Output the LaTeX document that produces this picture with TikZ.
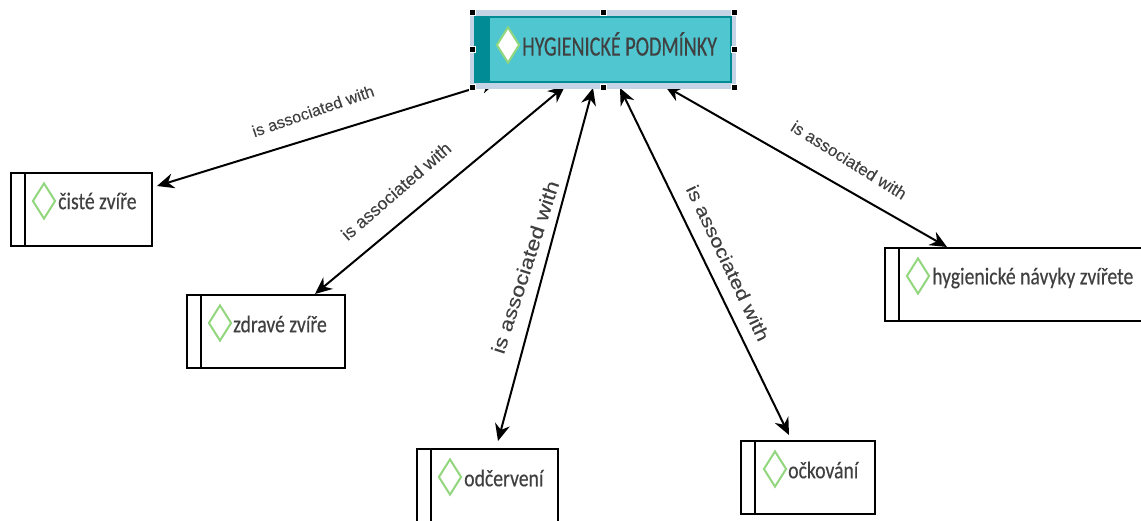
\documentclass[tikz,border=0pt]{standalone}
\usepackage{fontspec}
\usepackage{tikz}
\usetikzlibrary{arrows.meta}
\usetikzlibrary{shapes.geometric}
\usetikzlibrary{backgrounds}
\setmainfont{Carlito}[FakeStretch=0.82, FakeBold=0.3]
\newfontfamily\mainfont{Carlito}[FakeStretch=0.72, FakeBold=0.3]
\newfontfamily\linkfont{Liberation Sans}[FakeBold=0.1]
\newfontfamily\linkwidefont{Liberation Sans}[FakeStretch=1.18, FakeBold=0.1]
\definecolor{tealdark}{HTML}{008B95}
\definecolor{teallight}{HTML}{4FC6D0}
\definecolor{selblue}{HTML}{C5D3E6}
\definecolor{leafgreen}{HTML}{92D67E}
\definecolor{textgray}{HTML}{404040}
\tikzset{
  topicbox/.style = {draw=black, line width=2pt, fill=white, rectangle, anchor=north west, inner sep=0pt, outer sep=0pt, minimum height=73pt},
  leaf/.style = {diamond, draw=leafgreen, fill=white, line width=2pt, inner sep=0pt, minimum width=23pt, minimum height=36pt, aspect=0.6},
  topictext/.style = {anchor=west, inner sep=0pt, text=textgray, font=\fontsize{24}{26}\selectfont},
  linktext/.style = {inner sep=0pt, text=textgray, font=\linkfont\fontsize{16.3}{18}\selectfont},
  link/.style = {{Stealth[length=17pt,width=15pt]}-{Stealth[length=17pt,width=15pt]}, line width=2pt, black},
  handle/.style = {rectangle, draw=white, fill=black, line width=0.7pt, inner sep=0pt, minimum size=6pt}
}
\begin{document}
\begin{tikzpicture}[x=1pt, y=-1pt]
\useasboundingbox (0, 0) rectangle (1141, 521);

%draw main topic
\node[rectangle, draw=selblue, fill=selblue, line width=4pt, inner sep=0pt, outer sep=0pt, minimum width=262pt, minimum height=75pt] (frame) at (603, 49.5) {};
\node[rectangle, draw=tealdark, fill=teallight, line width=2pt, inner sep=0pt, outer sep=0pt, minimum width=256pt, minimum height=65pt] (main) at (603, 49.5) {};
\node[rectangle, fill=tealdark, inner sep=0pt, minimum width=16pt, minimum height=65pt] (mainstrip) at (482, 49.5) {};
\node[leaf] (mainleaf) at (508, 45) {};
\node[topictext, font=\mainfont\fontsize{28}{30}\selectfont] (maintext) at (522, 44) {HYGIENICKÉ PODMÍNKY};
\foreach \anc in {north west, north, north east, west, east, south west, south, south east}
  \node[handle] at (frame.\anc) {};

%draw topics
\node[topicbox, minimum width=141pt] (ciste) at (11, 173) {};
\node[leaf] (cisteleaf) at (44, 201) {};
\node[topictext] (cistetext) at (58, 201) {čisté zvíře};
\draw[line width=2pt] ([xshift=14pt]ciste.north west) to ([xshift=14pt]ciste.south west);

\node[topicbox, minimum width=158pt] (zdrave) at (187, 295) {};
\node[leaf] (zdraveleaf) at (220, 323) {};
\node[topictext] (zdravetext) at (233, 324) {zdravé zvíře};
\draw[line width=2pt] ([xshift=14pt]zdrave.north west) to ([xshift=14pt]zdrave.south west);

\node[topicbox, minimum width=141pt, minimum height=90pt] (odcerveni) at (417, 449) {};
\node[leaf] (odcerveniLeaf) at (450, 477) {};
\node[topictext] (odcervenitext) at (464, 478) {odčervení};
\draw[line width=2pt] ([xshift=14pt]odcerveni.north west) to ([xshift=14pt]odcerveni.south west);

\node[topicbox, minimum width=134pt] (ockovani) at (741, 441) {};
\node[leaf] (ockovaniLeaf) at (775, 469) {};
\node[topictext] (ockovanitext) at (788, 470) {očkování};
\draw[line width=2pt] ([xshift=14pt]ockovani.north west) to ([xshift=14pt]ockovani.south west);

\node[topicbox, minimum width=300pt] (navyky) at (885, 248) {};
\node[leaf] (navykyleaf) at (918, 276) {};
\node[topictext] (navykytext) at (932, 278) {hygienické návyky zvířete};
\draw[line width=2pt] ([xshift=14pt]navyky.north west) to ([xshift=14pt]navyky.south west);

%draw links, behind the main topic
\begin{scope}[on background layer]
\draw[link] ([xshift=-105pt, yshift=1pt]main.south) to ([xshift=5pt, yshift=23.5pt]ciste.east);
\draw[link] ([xshift=-38pt, yshift=-4pt]main.south) to ([xshift=49pt, yshift=1pt]zdrave.north);
\draw[link] ([xshift=-10pt, yshift=-6pt]main.south) to ([xshift=10.5pt, yshift=8pt]odcerveni.north);
\draw[link] ([xshift=17pt, yshift=-6pt]main.south) to ([xshift=-19pt, yshift=6pt]ockovani.north);
\draw[link] ([xshift=62pt, yshift=-4pt]main.south) to ([xshift=-88pt, yshift=1pt]navyky.north);
\end{scope}

\node[linktext, rotate=19] (label1) at (313, 111) {is associated with};
\node[linktext, rotate=41, font=\linkfont\fontsize{17.7}{20}\selectfont] (label2) at (396, 191) {is associated with};
\node[linktext, rotate=72, font=\linkwidefont\fontsize{19.5}{22}\selectfont] (label3) at (525, 267) {is associated with};
\node[linktext, rotate=-64.6, font=\linkwidefont\fontsize{18.4}{22}\selectfont] (label4) at (728, 263) {is associated with};
\node[linktext, rotate=-32, font=\linkfont\fontsize{16.9}{18}\selectfont] (label5) at (849, 160) {is associated with};
\end{tikzpicture}
\end{document}
